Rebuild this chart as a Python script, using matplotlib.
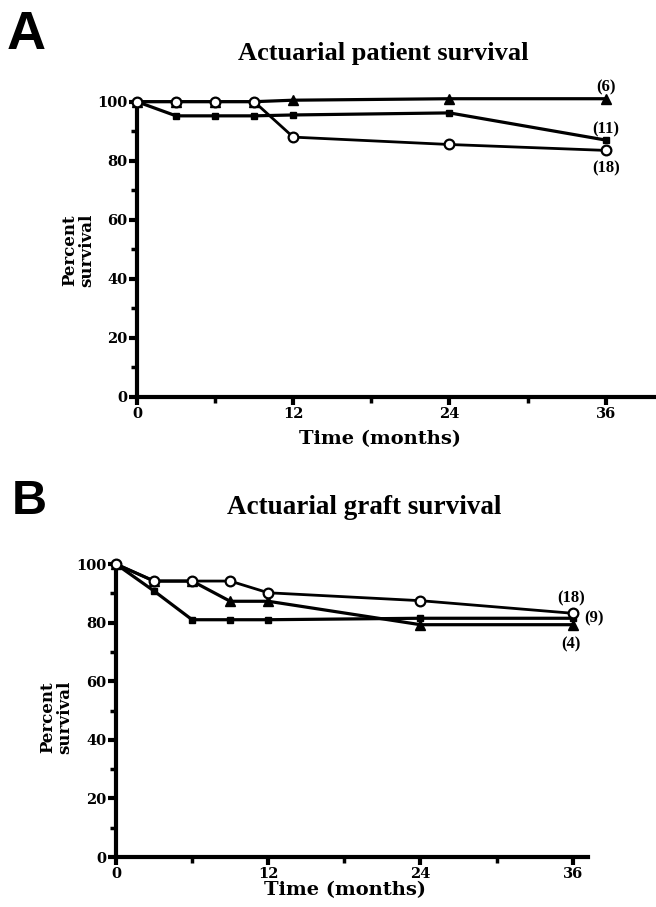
import matplotlib
matplotlib.use("Agg")
import matplotlib.pyplot as plt
from matplotlib.ticker import MultipleLocator

# ----- data -----
months = [0, 3, 6, 9, 12, 24, 36]

# A: actuarial patient survival
patient_circle = [100, 100, 100, 100, 88, 85.5, 83.5]   # (18)
patient_square = [100, 95.2, 95.2, 95.2, 95.5, 96.2, 87]  # (11)
patient_triangle = [100, 100, 100, 100, 100.5, 101, 101]  # (6)
patient_counts = ["(6)", "(11)", "(18)"]

# B: actuarial graft survival
graft_circle = [100, 94.2, 94.2, 94.2, 90.2, 87.5, 83.2]  # (18)
graft_square = [100, 90.8, 81, 81, 81, 81.5, 81.5]        # (9)
graft_triangle = [100, 94.2, 94.2, 87.3, 87.3, 79.3, 79.3]  # (4)
graft_counts = ["(18)", "(9)", "(4)"]

x_ticks = [0, 12, 24, 36]
y_ticks = [0, 20, 40, 60, 80, 100]

SERIF = ["DejaVu Serif"]
TIMES = ["Liberation Serif"]


def style_axes(ax, xmax):
    ax.set_xlim(0, xmax)
    ax.set_ylim(0, 100)
    for side in ["top", "right"]:
        ax.spines[side].set_visible(False)
    for side in ["left", "bottom"]:
        ax.spines[side].set_linewidth(3.0)
    ax.set_xticks(x_ticks)
    ax.set_yticks(y_ticks)
    ax.xaxis.set_minor_locator(MultipleLocator(6))
    ax.yaxis.set_minor_locator(MultipleLocator(10))
    ax.tick_params(which="major", direction="out", length=6, width=3, pad=1)
    ax.tick_params(which="minor", direction="out", length=4, width=2.5)
    for lab in ax.get_xticklabels() + ax.get_yticklabels():
        lab.set_family(SERIF)
        lab.set_fontweight("bold")
        lab.set_fontsize(10.5)
    ax.set_xlabel("Time (months)", family=SERIF, fontweight="bold", fontsize=14)
    ax.set_ylabel("Percent\nsurvival", family=SERIF, fontweight="bold", fontsize=12,
                  linespacing=0.95)


def draw_series(ax, circle, square, triangle):
    ax.plot(months, triangle, color="black", lw=2.3, marker="^", ms=7,
            clip_on=False, zorder=3)
    ax.plot(months, square, color="black", lw=2.3, marker="s", ms=5,
            clip_on=False, zorder=4)
    ax.plot(months, circle, color="black", lw=2.0, marker="o", ms=7,
            mfc="white", mec="black", mew=1.6, clip_on=False, zorder=5)


def count_label(ax, text, y, dx, dy, ha="center", va="center"):
    ax.annotate(text, (36, y), xytext=(dx, dy), textcoords="offset points",
                ha=ha, va=va, family=TIMES, fontweight="bold", fontsize=12,
                annotation_clip=False)


fig = plt.figure(figsize=(6.56, 9.07), dpi=100)

# ----- panel A -----
ax_a = fig.add_axes([0.2088, 0.5623, 0.79, 0.3256])
draw_series(ax_a, patient_circle, patient_square, patient_triangle)
style_axes(ax_a, 39.8)
ax_a.xaxis.set_label_coords(0.469, -0.112)
ax_a.yaxis.set_label_coords(-0.081, 0.498)
ax_a.set_title("Actuarial patient survival", family=TIMES, fontweight="bold",
               fontsize=19, pad=30, x=0.475)
count_label(ax_a, patient_counts[0], patient_triangle[-1], 0, 8.5)
count_label(ax_a, patient_counts[1], patient_square[-1], 0, 7.5)
count_label(ax_a, patient_counts[2], patient_circle[-1], 0, -13)
fig.text(0.010, 0.946, "A", family=["Liberation Sans"], fontweight="bold", fontsize=39)

# ----- panel B -----
ax_b = fig.add_axes([0.1768, 0.0551, 0.7195, 0.323])
draw_series(ax_b, graft_circle, graft_square, graft_triangle)
style_axes(ax_b, 37.2)
ax_b.xaxis.set_label_coords(0.485, -0.082)
ax_b.yaxis.set_label_coords(-0.091, 0.478)
ax_b.set_title("Actuarial graft survival", family=TIMES, fontweight="bold",
               fontsize=19.5, pad=36, x=0.525)
count_label(ax_b, graft_counts[0], graft_circle[-1], -1, 11)
count_label(ax_b, graft_counts[1], graft_square[-1], 8, 0, ha="left")
count_label(ax_b, graft_counts[2], graft_triangle[-1], -1, -14)
fig.text(0.018, 0.433, "B", family=["Liberation Sans"], fontweight="bold", fontsize=35)

fig.savefig("out.png", dpi=100)
